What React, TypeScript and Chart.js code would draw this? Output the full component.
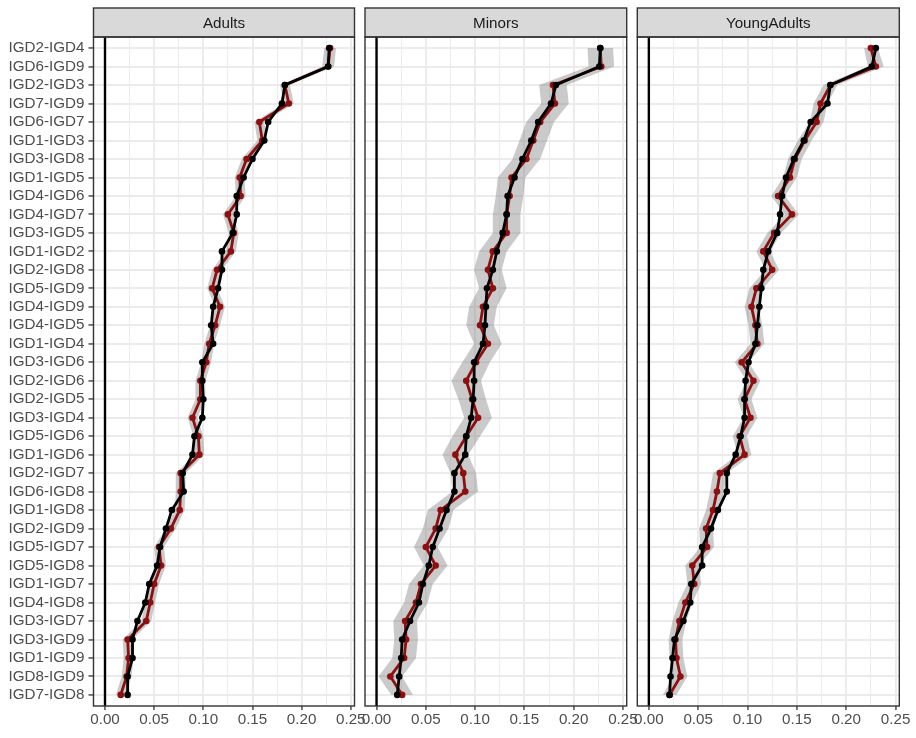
import React, { useEffect, useRef } from 'react';
import { Chart, registerables } from 'chart.js';
Chart.register(...registerables);

const categories = [
  'IGD2-IGD4', 'IGD6-IGD9', 'IGD2-IGD3', 'IGD7-IGD9', 'IGD6-IGD7', 'IGD1-IGD3',
  'IGD3-IGD8', 'IGD1-IGD5', 'IGD4-IGD6', 'IGD4-IGD7', 'IGD3-IGD5', 'IGD1-IGD2',
  'IGD2-IGD8', 'IGD5-IGD9', 'IGD4-IGD9', 'IGD4-IGD5', 'IGD1-IGD4', 'IGD3-IGD6',
  'IGD2-IGD6', 'IGD2-IGD5', 'IGD3-IGD4', 'IGD5-IGD6', 'IGD1-IGD6', 'IGD2-IGD7',
  'IGD6-IGD8', 'IGD1-IGD8', 'IGD2-IGD9', 'IGD5-IGD7', 'IGD5-IGD8', 'IGD1-IGD7',
  'IGD4-IGD8', 'IGD3-IGD7', 'IGD3-IGD9', 'IGD1-IGD9', 'IGD8-IGD9', 'IGD7-IGD8',
];

const panelTitles = ['Adults', 'Minors', 'YoungAdults'];

const xTickValues = [0, 0.05, 0.1, 0.15, 0.2, 0.25];

const adultsRed = [0.229, 0.227, 0.183, 0.187, 0.157, 0.160, 0.144, 0.137, 0.138, 0.125, 0.131, 0.128,
  0.114, 0.109, 0.117, 0.112, 0.106, 0.103, 0.097, 0.097, 0.089, 0.095, 0.096, 0.077,
  0.077, 0.076, 0.067, 0.055, 0.057, 0.050, 0.046, 0.042, 0.023, 0.024, 0.022, 0.016];
const adultsBlack = [0.228, 0.227, 0.183, 0.180, 0.166, 0.162, 0.150, 0.141, 0.134, 0.134, 0.130, 0.119,
  0.119, 0.115, 0.110, 0.108, 0.110, 0.099, 0.099, 0.100, 0.099, 0.091, 0.089, 0.079,
  0.080, 0.068, 0.062, 0.056, 0.053, 0.045, 0.041, 0.033, 0.028, 0.028, 0.023, 0.023];
const adultsBand = [0.006, 0.006, 0.005, 0.005, 0.005, 0.005, 0.005, 0.005, 0.005, 0.005, 0.005, 0.005,
  0.005, 0.005, 0.005, 0.005, 0.005, 0.005, 0.005, 0.005, 0.005, 0.005, 0.005, 0.005,
  0.005, 0.005, 0.005, 0.005, 0.005, 0.005, 0.005, 0.005, 0.005, 0.005, 0.005, 0.005];

const minorsRed = [0.227, 0.228, 0.179, 0.181, 0.166, 0.159, 0.152, 0.137, 0.135, 0.132, 0.132, 0.118,
  0.113, 0.118, 0.108, 0.105, 0.113, 0.101, 0.091, 0.097, 0.103, 0.091, 0.080, 0.088,
  0.090, 0.065, 0.060, 0.050, 0.060, 0.045, 0.040, 0.029, 0.030, 0.028, 0.014, 0.026];
const minorsBlack = [0.227, 0.226, 0.182, 0.177, 0.164, 0.157, 0.148, 0.140, 0.133, 0.132, 0.128, 0.122,
  0.118, 0.112, 0.111, 0.110, 0.108, 0.099, 0.099, 0.098, 0.096, 0.091, 0.090, 0.079,
  0.079, 0.071, 0.064, 0.057, 0.053, 0.047, 0.043, 0.034, 0.026, 0.025, 0.023, 0.021];
const minorsBand = [0.013, 0.013, 0.014, 0.014, 0.014, 0.014, 0.014, 0.014, 0.014, 0.014, 0.014, 0.014,
  0.014, 0.014, 0.014, 0.014, 0.014, 0.014, 0.015, 0.014, 0.014, 0.014, 0.013, 0.013,
  0.013, 0.013, 0.013, 0.012, 0.012, 0.012, 0.012, 0.012, 0.012, 0.012, 0.012, 0.011];

const youngRed = [0.225, 0.230, 0.184, 0.174, 0.170, 0.158, 0.148, 0.143, 0.131, 0.145, 0.127, 0.116,
  0.125, 0.109, 0.104, 0.108, 0.110, 0.094, 0.106, 0.097, 0.103, 0.092, 0.097, 0.072,
  0.069, 0.065, 0.058, 0.059, 0.044, 0.046, 0.037, 0.031, 0.027, 0.028, 0.032, 0.021];
const youngBlack = [0.230, 0.226, 0.184, 0.181, 0.164, 0.157, 0.147, 0.139, 0.135, 0.133, 0.130, 0.121,
  0.116, 0.114, 0.112, 0.110, 0.108, 0.101, 0.098, 0.097, 0.097, 0.093, 0.088, 0.079,
  0.079, 0.070, 0.063, 0.054, 0.054, 0.043, 0.042, 0.035, 0.026, 0.024, 0.022, 0.021];
const youngBand = [0.007, 0.008, 0.007, 0.007, 0.007, 0.007, 0.007, 0.007, 0.007, 0.007, 0.007, 0.007,
  0.007, 0.007, 0.007, 0.007, 0.007, 0.007, 0.007, 0.007, 0.007, 0.007, 0.007, 0.007,
  0.007, 0.007, 0.007, 0.007, 0.007, 0.007, 0.007, 0.007, 0.007, 0.007, 0.007, 0.007];

const X_MIN = -0.0117;
const X_MAX = 0.2538;
const Y_MIN = -0.6;
const Y_MAX = categories.length - 1 + 0.6;

const FONT = '"Liberation Sans", Arial, Helvetica, sans-serif';
const FONT_SIZE = 15.2;
const RED = '#8E0F0F';

const stripPlugin = {
  id: 'strip',
  afterDraw(chart: any, _args: any, opts: any) {
    const { ctx, chartArea: a } = chart;
    const top = 8;
    ctx.save();
    ctx.fillStyle = '#D9D9D9';
    ctx.fillRect(a.left, top, a.right - a.left, a.top - top);
    ctx.strokeStyle = '#333333';
    ctx.lineWidth = 1.4;
    ctx.strokeRect(a.left, top, a.right - a.left, a.top - top);
    ctx.strokeRect(a.left, a.top, a.right - a.left, a.bottom - a.top);
    ctx.fillStyle = '#1A1A1A';
    ctx.font = `${FONT_SIZE}px ${FONT}`;
    ctx.textAlign = 'center';
    ctx.textBaseline = 'middle';
    ctx.fillText(opts.title, (a.left + a.right) / 2, (top + a.top) / 2 + 1);
    ctx.restore();
  },
};

function pts(arr: number[]) {
  return arr.map((v, i) => ({ x: v, y: i }));
}

function isMajor(v: number) {
  return Math.abs(Math.round(v * 1000) % 50) === 0;
}

function makeConfig(title: string, red: number[], black: number[], band: number[], showY: boolean, padL: number, padR: number) {
  const lower = red.map((v, i) => v - band[i]);
  const upper = red.map((v, i) => v + band[i]);
  return {
    type: 'line',
    data: {
      datasets: [
        { data: [{ x: 0, y: Y_MIN }, { x: 0, y: Y_MAX }], borderColor: '#000000', borderWidth: 2.4, pointRadius: 0, order: 5 },
        { data: pts(lower), borderWidth: 0, borderColor: 'rgba(0,0,0,0)', pointRadius: 0, fill: false, order: 4 },
        { data: pts(upper), borderWidth: 0, borderColor: 'rgba(0,0,0,0)', pointRadius: 0, fill: '-1', backgroundColor: 'rgba(128,128,128,0.42)', order: 3 },
        { data: pts(red), borderColor: RED, backgroundColor: RED, borderWidth: 2.8, pointRadius: 3.3, pointBorderWidth: 0, order: 2 },
        { data: pts(black), borderColor: '#000000', backgroundColor: '#000000', borderWidth: 2.8, pointRadius: 3.3, pointBorderWidth: 0, order: 1 },
      ],
    },
    options: {
      indexAxis: 'y',
      animation: false,
      responsive: false,
      maintainAspectRatio: false,
      layout: { padding: { top: 37, bottom: 0, left: padL, right: padR } },
      plugins: { legend: { display: false }, tooltip: { enabled: false }, strip: { title } },
      scales: {
        x: {
          type: 'linear',
          min: X_MIN,
          max: X_MAX,
          border: { display: false },
          afterFit: (s: any) => { s.height = 32; s.paddingLeft = 0; s.paddingRight = 0; },
          ticks: {
            stepSize: 0.025,
            includeBounds: false,
            autoSkip: false,
            maxRotation: 0,
            padding: 1,
            color: '#4D4D4D',
            font: { family: FONT, size: FONT_SIZE },
            callback: (v: number) => {
              const hit = xTickValues.find((t) => Math.abs(t - v) < 1e-6);
              return hit !== undefined ? hit.toFixed(2) : '';
            },
          },
          grid: {
            color: '#EBEBEB',
            lineWidth: (c: any) => (c.tick && isMajor(c.tick.value) ? 1.9 : 0.95),
            drawTicks: true,
            tickLength: 4,
            tickColor: (c: any) => (c.tick && isMajor(c.tick.value) ? '#333333' : 'rgba(0,0,0,0)'),
            tickWidth: 1.3,
          },
        },
        y: {
          type: 'linear',
          reverse: true,
          min: Y_MIN,
          max: Y_MAX,
          border: { display: false },
          afterFit: (s: any) => { s.width = showY ? 93.5 : 0; s.paddingTop = 0; s.paddingBottom = 0; },
          ticks: {
            display: showY,
            stepSize: 1,
            includeBounds: false,
            autoSkip: false,
            padding: 4,
            color: '#4D4D4D',
            font: { family: FONT, size: FONT_SIZE },
            callback: (v: number) => categories[Math.round(v)] ?? '',
          },
          grid: {
            color: '#EBEBEB',
            lineWidth: 1.9,
            drawTicks: showY,
            tickLength: 5,
            tickColor: '#333333',
            tickWidth: 1.3,
          },
        },
      },
    },
    plugins: [stripPlugin],
  };
}

function Panel({ left, width, config }: { left: number; width: number; config: any }) {
  const ref = useRef<HTMLCanvasElement>(null);
  useEffect(() => {
    const chart = new Chart(ref.current as HTMLCanvasElement, config);
    return () => chart.destroy();
  }, []);
  return (
    <canvas
      ref={ref}
      width={width}
      height={738}
      style={{ position: 'absolute', left, top: 0, width, height: 738 }}
    />
  );
}

export default function App() {
  return (
    <div style={{ position: 'fixed', left: 0, top: 0, width: 916, height: 738, background: '#FFFFFF', overflow: 'hidden' }}>
      <Panel left={0} width={370} config={makeConfig(panelTitles[0], adultsRed, adultsBlack, adultsBand, true, 0, 15.5)} />
      <Panel left={350} width={292} config={makeConfig(panelTitles[1], minorsRed, minorsBlack, minorsBand, false, 15, 15.3)} />
      <Panel left={622} width={294} config={makeConfig(panelTitles[2], youngRed, youngBlack, youngBand, false, 15.3, 16.7)} />
    </div>
  );
}
